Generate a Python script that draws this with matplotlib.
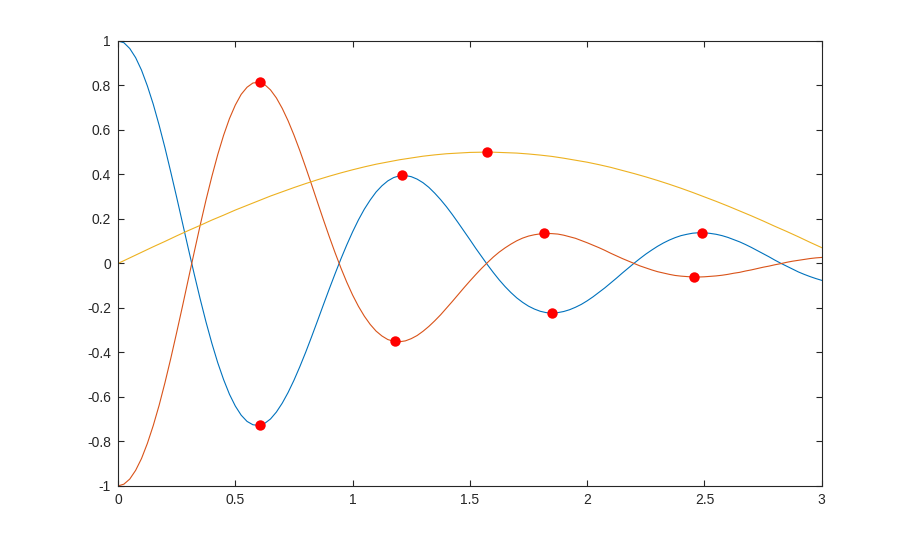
import numpy as np
import matplotlib
matplotlib.use('Agg')
import matplotlib.pyplot as plt

# curves: blue/orange every 0.025, yellow every 0.05, x from 0 to 3
blue = [1.000,0.992,0.966,0.925,0.869,0.798,0.716,0.622,0.520,0.410,0.297,0.181,0.065,-0.049,-0.159,-0.263,-0.359,-0.446,-0.522,-0.588,-0.641,-0.682,-0.710,-0.725,-0.728,-0.719,-0.699,-0.668,-0.628,-0.580,-0.525,-0.464,-0.399,-0.330,-0.259,-0.187,-0.116,-0.047,0.020,0.083,0.142,0.196,0.244,0.285,0.321,0.349,0.371,0.386,0.394,0.395,0.390,0.379,0.363,0.342,0.316,0.287,0.255,0.220,0.183,0.145,0.107,0.068,0.031,-0.006,-0.041,-0.074,-0.104,-0.131,-0.155,-0.175,-0.192,-0.205,-0.215,-0.221,-0.223,-0.221,-0.216,-0.208,-0.197,-0.184,-0.168,-0.150,-0.130,-0.110,-0.088,-0.066,-0.043,-0.021,0.001,0.022,0.042,0.060,0.077,0.092,0.105,0.116,0.125,0.131,0.136,0.138,0.138,0.135,0.131,0.125,0.117,0.107,0.097,0.085,0.072,0.058,0.044,0.030,0.015,0.001,-0.012,-0.025,-0.038,-0.049,-0.059,-0.068,-0.076]
orange = [-1.000,-0.992,-0.969,-0.930,-0.877,-0.809,-0.729,-0.638,-0.536,-0.426,-0.310,-0.191,-0.069,0.052,0.171,0.285,0.391,0.489,0.576,0.651,0.712,0.760,0.792,0.811,0.814,0.804,0.780,0.744,0.697,0.641,0.577,0.507,0.432,0.355,0.276,0.198,0.122,0.049,-0.020,-0.084,-0.142,-0.193,-0.237,-0.274,-0.304,-0.326,-0.342,-0.350,-0.352,-0.348,-0.338,-0.324,-0.305,-0.283,-0.258,-0.231,-0.201,-0.171,-0.140,-0.109,-0.079,-0.050,-0.022,0.004,0.029,0.051,0.070,0.087,0.102,0.114,0.123,0.129,0.133,0.135,0.134,0.132,0.127,0.120,0.113,0.103,0.093,0.082,0.071,0.059,0.046,0.034,0.022,0.011,0.000,-0.011,-0.020,-0.029,-0.037,-0.043,-0.049,-0.054,-0.057,-0.059,-0.061,-0.061,-0.060,-0.058,-0.056,-0.053,-0.049,-0.044,-0.040,-0.034,-0.029,-0.023,-0.017,-0.012,-0.006,-0.001,0.005,0.010,0.014,0.018,0.022,0.025,0.027]
yellow = [0.000,0.025,0.050,0.075,0.099,0.124,0.148,0.171,0.195,0.217,0.240,0.261,0.282,0.303,0.322,0.341,0.359,0.376,0.392,0.407,0.421,0.434,0.446,0.456,0.466,0.474,0.482,0.488,0.493,0.496,0.499,0.500,0.500,0.498,0.496,0.492,0.487,0.481,0.473,0.464,0.455,0.444,0.432,0.418,0.404,0.389,0.373,0.356,0.338,0.319,0.299,0.279,0.258,0.236,0.214,0.191,0.167,0.144,0.120,0.095,0.071]

x_fine = np.linspace(0, 3, len(blue))
x_coarse = np.linspace(0, 3, len(yellow))

# extrema markers
peak_x = [0.606, 1.212, 1.848, 2.488, 0.606, 1.182, 1.818, 2.454, 1.575]
peak_y = [-0.727, 0.396, -0.222, 0.139, 0.815, -0.350, 0.135, -0.059, 0.500]

xticks = [0, 0.5, 1, 1.5, 2, 2.5, 3]
xlabels = ['0', '0.5', '1', '1.5', '2', '2.5', '3']
yticks = [-1, -0.8, -0.6, -0.4, -0.2, 0, 0.2, 0.4, 0.6, 0.8, 1]
ylabels = ['-1', '-0.8', '-0.6', '-0.4', '-0.2', '0', '0.2', '0.4', '0.6', '0.8', '1']

plt.rcParams['font.family'] = ['Liberation Sans', 'DejaVu Sans']

fig = plt.figure(figsize=(9.08, 5.46), dpi=100)
ax = fig.add_axes([0.13, 0.11, 0.775, 0.815])

ax.plot(x_fine, blue, color='#0072BD', lw=0.8)
ax.plot(x_fine, orange, color='#D95319', lw=0.8)
ax.plot(x_coarse, yellow, color='#EDB120', lw=0.8)
ax.plot(peak_x, peak_y, 'o', color='red', markersize=7.5, markeredgewidth=0)

ax.set_xlim(0, 3)
ax.set_ylim(-1, 1)
ax.set_xticks(xticks)
ax.set_xticklabels(xlabels)
ax.set_yticks(yticks)
ax.set_yticklabels(ylabels)
ax.tick_params(direction='in', length=4, width=0.8, top=True, right=True,
               labelsize=10, colors='#262626', pad=5)
for s in ax.spines.values():
    s.set_linewidth(0.8)
    s.set_color('#262626')

fig.savefig('out.png', dpi=100)
